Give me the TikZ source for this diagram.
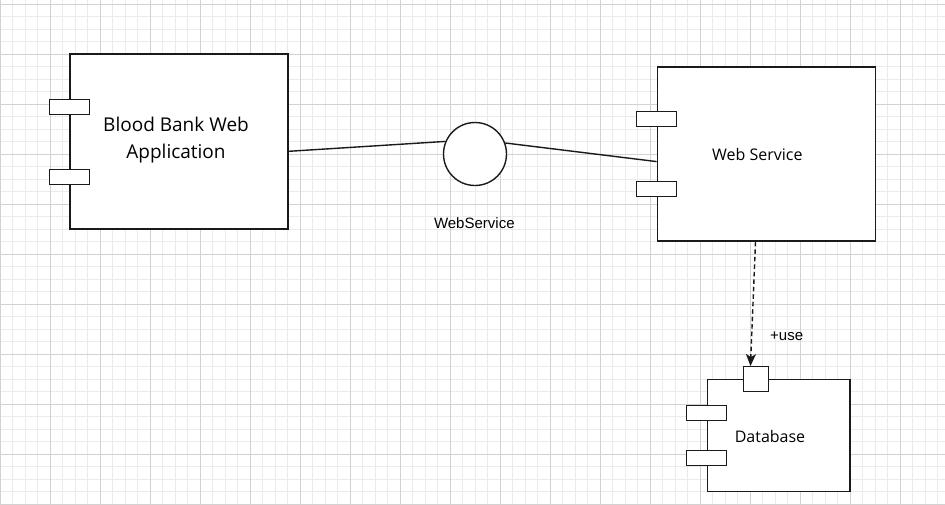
\documentclass[tikz,border=0pt]{standalone}
\usepackage{fontspec}
\setmainfont{Open Sans}
\newfontfamily\arialfont{Liberation Sans}
\usetikzlibrary{arrows.meta}
\definecolor{gridminor}{HTML}{EBEBEB}
\definecolor{gridmajor}{HTML}{D2D2D2}
\definecolor{ink}{HTML}{1A1A1A}
\tikzset{
  comp/.style={draw=ink, fill=white, line width=1.5pt, inner sep=0pt},
  port/.style={draw=ink, fill=white, line width=1.3pt, minimum width=40pt, minimum height=15pt, inner sep=0pt},
  iface/.style={draw=ink, fill=white, line width=1.4pt, circle, minimum size=63pt, inner sep=0pt},
  wire/.style={draw=ink, line width=1.4pt},
}
\newcommand{\twoports}[3]{
\node[port] (#1p1) at (#1.west |- 0,#2) {};
\node[port] (#1p2) at (#1.west |- 0,#3) {};
}
\begin{document}
\begin{tikzpicture}[x=1pt, y=-1pt]
\useasboundingbox[fill=white] (0,0) rectangle (945,504);
\foreach \x in {0,12.5,...,945} \draw[gridminor, line width=0.9pt] (\x,0) -- (\x,504);
\foreach \y in {4,16.5,...,504} \draw[gridminor, line width=0.9pt] (0,\y) -- (945,\y);
\foreach \x in {0,50,...,900} \draw[gridmajor, line width=1pt] (\x,0) -- (\x,504);
\foreach \y in {4,54,...,504} \draw[gridmajor, line width=1pt] (0,\y) -- (945,\y);
\node[comp, minimum width=218pt, minimum height=175pt] at (179,141.7) (app) {};
\node[font=\fontsize{19}{27}\selectfont, align=center] at (176,140) (apptext) {Blood Bank Web\\Application};
\twoports{app}{106.7}{176.7}
\node[comp, minimum width=218pt, minimum height=174.3pt] at (766.3,153.9) (ws) {};
\node[font=\fontsize{16}{18}\selectfont] at (757.3,154.3) (wstext) {Web Service};
\twoports{ws}{119.2}{189.2}
\node[comp, minimum width=142.7pt, minimum height=112.4pt] at (778.7,435.5) (db) {};
\node[font=\fontsize{16}{18}\selectfont] at (770,436.7) (dbtext) {Database};
\twoports{db}{413.2}{458}
\node[port, minimum width=25pt, minimum height=25pt] at (756.3,379.2) (dbtop) {};
\node[iface] at (475,154) (wsi) {};
\node[font=\arialfont\fontsize{15}{17}\selectfont] at (474.3,222.7) (wsilabel) {WebService};
\node[font=\arialfont\fontsize{15}{17}\selectfont] at (786.7,336) (uselabel) {+use};
\draw[wire] (app.-5) -- (wsi.157.5);
\draw[wire] (wsi.20) -- (ws.184);
\draw[wire, dash pattern=on 4.5pt off 3pt, -{Stealth[length=12pt, width=10pt, inset=3pt]}] (ws.-97) -- (dbtop.114);
\end{tikzpicture}
\end{document}
